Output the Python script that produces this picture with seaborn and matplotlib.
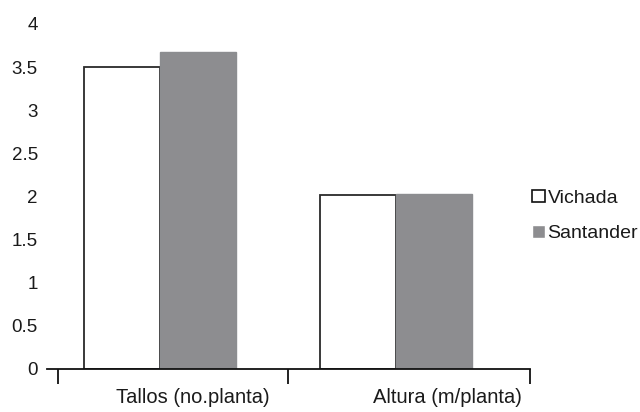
import pandas as pd
import matplotlib
matplotlib.use('Agg')
import matplotlib.pyplot as plt
import seaborn as sns

# values
categories = ['Tallos (no.planta)', 'Altura (m/planta)']
sites = ['Vichada', 'Santander']
vichada = [3.50, 2.02]
santander = [3.67, 2.03]

df = pd.DataFrame({
    'variable': categories * 2,
    'site': [sites[0]] * 2 + [sites[1]] * 2,
    'value': vichada + santander,
})

sns.set_style('white')
plt.rcParams['font.family'] = ['Liberation Sans', 'DejaVu Sans']

fig = plt.figure(figsize=(6.4, 4.12), dpi=100)
ax = fig.add_axes([0.0734, 0.1044, 0.755, 0.8376])

gray = '#8c8d90'
sns.barplot(data=df, x='variable', y='value', hue='site', hue_order=sites,
            palette={'Vichada': 'white', 'Santander': gray},
            width=0.645, ax=ax, legend=True)

# bar outlines
for p in ax.containers[0]:
    p.set_edgecolor('#2a2a2a')
    p.set_linewidth(1.3)
for p in ax.containers[1]:
    p.set_edgecolor(gray)
    p.set_linewidth(1.0)

ax.set_ylim(0, 4)
ax.set_xlim(-0.48, 1.571)
ax.set_yticks([0, 0.5, 1, 1.5, 2, 2.5, 3, 3.5, 4])
ax.set_yticklabels(['0', '0.5', '1', '1.5', '2', '2.5', '3', '3.5', '4'])
ax.tick_params(axis='y', length=0, pad=6.5, labelsize=13.5, labelcolor='#1a1a1a')

# category boundaries as minor ticks, labels as major ticks
ax.set_xticks([-0.433, 0.544, 1.571], minor=True)
ax.set_xticks([0.14, 1.22])
ax.set_xticklabels(categories)
ax.tick_params(axis='x', which='major', length=0, pad=14, labelsize=14.5, labelcolor='#1a1a1a')
ax.tick_params(axis='x', which='minor', length=10.5, width=1.3, color='#111111', direction='out', bottom=True)

for s in ['top', 'right', 'left']:
    ax.spines[s].set_visible(False)
ax.spines['bottom'].set_color('#111111')
ax.spines['bottom'].set_linewidth(1.3)

ax.set_xlabel('')
ax.set_ylabel('')

handles, labels = ax.get_legend_handles_labels()
leg = ax.legend(handles, labels, loc='center left', bbox_to_anchor=(0.832, 0.476),
                bbox_transform=fig.transFigure, frameon=False, fontsize=14,
                handlelength=0.62, handleheight=0.62, handletextpad=0.15,
                labelspacing=0.95, borderaxespad=0, borderpad=0)
leg.legend_handles[0].set_edgecolor('#111111')
leg.legend_handles[0].set_linewidth(1.2)
for t in leg.get_texts():
    t.set_color('#1a1a1a')

fig.savefig('out.png', dpi=100)
